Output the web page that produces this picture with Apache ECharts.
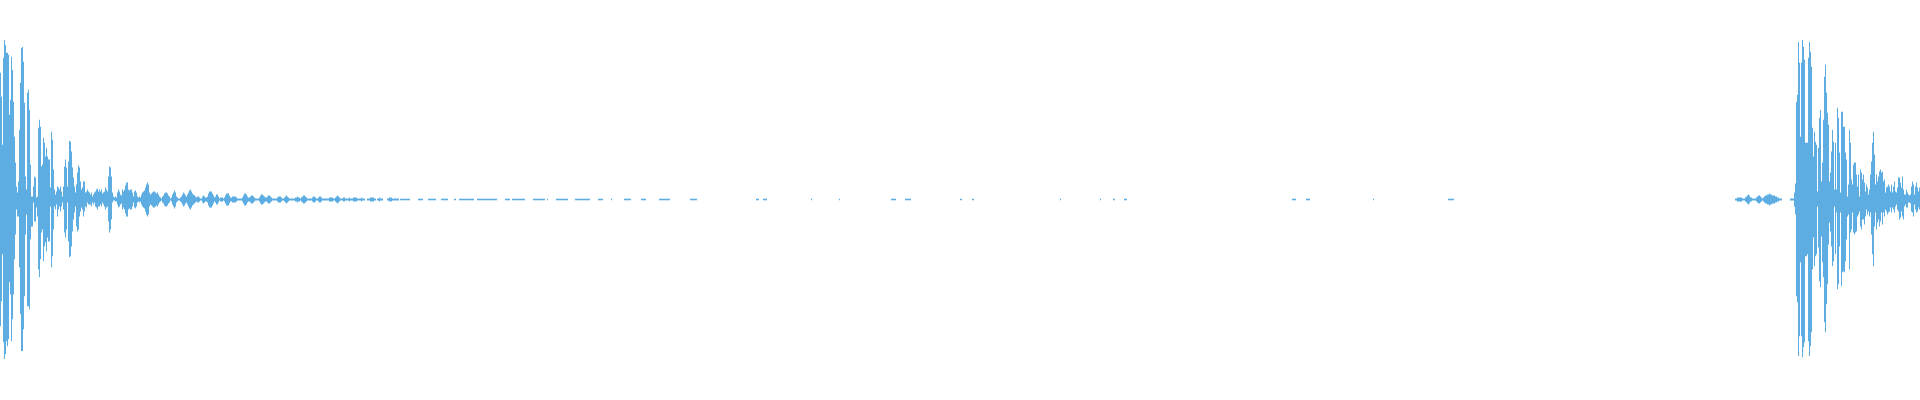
<!DOCTYPE html>
<html><head><meta charset="utf-8">
<script src="https://cdn.jsdelivr.net/npm/echarts@6/dist/echarts.min.js"></script>
<style>html,body{margin:0;padding:0;background:#fff}#c{width:1920px;height:400px}</style>
</head><body><div id="c"></div>
<script>
// Sample columns (x = column index, values = amplitude above/below zero)
const headStart = 0;
const headHi = [127,103,55,142,160,155,147,147,145,85,100,143,130,98,63,37,13,7,18,70,117,152,153,138,97,23,10,107,110,90,35,3,3,13,23,22,2,3,72,80,73,33,35,62,57,43,52,43,40,40,12,68,60,30,10,5,8,13,12,10,
13,8,3,13,33,40,32,13,38,59,58,48,32,22,13,7,15,27,34,32,18,10,12,18,18,7,8,10,8,7,5,7,3,5,7,8,10,11,8,10,8,10,6,7,8,12,10,8,23,33,32,23,7,3,2,3,2,7,10,8];
const headLo = [-127,-102,-55,-143,-160,-155,-142,-147,-140,-83,-95,-142,-120,-95,-60,-35,-10,-17,-17,-68,-115,-152,-152,-130,-97,-35,-15,-107,-107,-110,-40,-27,-27,-3,-22,-22,-8,-17,-70,-78,-60,-33,-30,-62,-47,-43,-52,-38,-42,-42,-7,-68,-57,-30,-7,-10,-5,-17,-10,-7,
-12,-7,-3,-10,-33,-38,-30,-3,-42,-58,-57,-47,-32,-20,-13,-7,-27,-32,-30,-17,-12,-8,-10,-17,-12,-7,-8,-3,-5,-5,-5,-7,-3,-5,-3,-7,-8,-10,-7,-7,-5,-7,-3,-5,-7,-10,-8,-7,-22,-33,-30,-20,-3,-1,-1,-2,-2,-5,-8,-7];

const tailStart = 120;
const tailAmp = [5,4,10,8,10,14,17,17,10,9, 10,10,7,3,8,9,7,3,2,3, 2,5,7,8,9,12,15,17,15,7, 5,6,7,8,8,7,6,7,5,3,
2,1,3,4,6,7,7,6,4,3, 1,2,5,7,9,7,3,2,1,1, 2,3,5,7,6,4,3,5,7,9, 10,8,6,5,4,3,2,3,3,2,
1,1,3,4,3,2,2,3,6,8, 8,8,6,4,2,3,5,5,3,1, 2,2,2,1,2,4,6,6,6,4, 2,2,3,3,3,3,2,1,1,1,
1,1,2,4,6,6,5,3,2,2, 3,4,4,3,2,1,1,1,1,2, 4,5,5,4,3,2,2,3,4,4, 3,2,1,1,1,1,1,2,3,3,
3,2,1,1,2,3,4,3,2,1, 1,1,1,1,1,2,2,3,2,2, 1,2,3,4,4,3,2,1,1,1, 1,1,2,3,3,2,1,1,2,3,
3,2,1,1,1,1,1,1,1,2, 2,2,2,1,1,2,3,4,3,2, 1,1,1,2,2,1,1,1,1,2, 1,1,1,2,2,2,2,1,1,1,
1,2,1,1,1,0,0,1,1,1, 2,2,2,2,1,1,0,1,1,2, 1,1,1,0,0,0,0,1,1,2, 2,2,1,1,1,1,1,1,1,0];

// Faint segments along the zero line: [start, end]
const midDashes = [[400,410],[418,423],[428,436],[441,448],[454,456],[459,474],[477,497],[505,510],[512,525],[533,545],[547,548],[556,568],[575,590],[598,603],[611,612],[624,631],[641,646],[659,670],[690,697],[756,759],[763,767],[811,812],[839,840],[891,896],[905,911],[960,962],[972,974],[1060,1061],[1100,1101],[1113,1115],[1124,1127],[1292,1296],[1306,1310],[1373,1374],[1448,1454]];
const dashAmp = 0.8;

const preStart = 1735;
const preAmp = [1,1,2,2,2,2,2,1,1,1, 2,3,4,5,4,2,2,1,1,1, 1,2,3,4,4,3,2,1,2,3, 4,4,5,5,6,5,5,4,4,4, 3,3,2,2,1,1,1,0,0,0, 0,0,0,0,0,1,1,1,1,7];

const burstStart = 1795;
const burstHi = [16,98,105,158,137,63,137,160,153,140, 57,57,57,142,158,148,133,72,43,68, 58,55,8,52,82,90,18,37,80,123,
135,107,87,75,18,27,48,70,58,10, 57,10,92,82,47,7,88,88,73,73, 47,40,3,15,70,57,20,15,35,37,
37,25,13,25,3,30,27,20,25,17, 8,15,12,5,10,25,38,57,68,45, 15,25,18,23,28,30,27,28,18,20,
7,12,13,15,13,8,15,7,13,18, 8,7,12,22,22,17,12,23,10,5, 5,10,7,5,4,5,13,18,15,5, 13,17,12,8,12];
const burstLo = [-15,-97,-103,-157,-137,-63,-137,-158,-148,-143, -57,-57,-55,-142,-157,-147,-133,-70,-38,-67, -57,-55,-7,-48,-82,-88,-37,-63,-78,-123,
-133,-105,-85,-45,-23,-32,-47,-67,-62,-7, -55,-13,-90,-85,-47,-13,-87,-73,-72,-73, -62,-40,-17,-15,-70,-33,-30,-13,-33,-35,
-33,-32,-17,-15,-12,-27,-30,-20,-20,-25, -17,-10,-15,-12,-17,-13,-35,-55,-67,-27, -13,-30,-23,-20,-27,-22,-13,-25,-13,-17,
-10,-12,-15,-13,-12,-8,-13,-8,-10,-13, -7,-5,-10,-12,-20,-18,-12,-17,-20,-7, -5,-8,-8,-3,-3,-4,-12,-13,-17,-5, -10,-13,-12,-8,-10];

const waveColor = '#5dade2';

// Build [x, lo, hi, width] items
const items = [];
headHi.forEach((h, i) => items.push([headStart + i, headLo[i], h, 1]));
tailAmp.forEach((a, i) => { if (a > 0) items.push([tailStart + i, -a, a, 1]); });
midDashes.forEach(d => items.push([d[0], -dashAmp, dashAmp, d[1] - d[0]]));
preAmp.forEach((a, i) => { if (a > 0) items.push([preStart + i, -a, a, 1]); });
burstHi.forEach((h, i) => items.push([burstStart + i, burstLo[i], h, 1]));

function renderItem(params, api) {
  const x = api.value(0), lo = api.value(1), hi = api.value(2), w = api.value(3);
  const p0 = api.coord([x, hi]);
  const p1 = api.coord([x + w, lo]);
  let y0 = p0[1], y1 = p1[1];
  if (y1 - y0 < 1.5) { const c = (y0 + y1) / 2; y0 = c - 0.75; y1 = c + 0.75; }
  return { type: 'rect', shape: { x: p0[0], y: y0, width: p1[0] - p0[0], height: y1 - y0 }, style: { fill: waveColor } };
}

const chart = echarts.init(document.getElementById('c'), null, { renderer: 'canvas' });
chart.setOption({
  animation: false,
  backgroundColor: '#ffffff',
  grid: { left: 0, right: 0, top: 0, bottom: 1 },
  xAxis: { type: 'value', min: 0, max: 1920, show: false },
  yAxis: { type: 'value', min: -200, max: 200, show: false },
  series: [{
    type: 'custom',
    renderItem: renderItem,
    encode: { x: 0, y: [1, 2] },
    data: items,
    clip: false
  }]
});
</script></body></html>
